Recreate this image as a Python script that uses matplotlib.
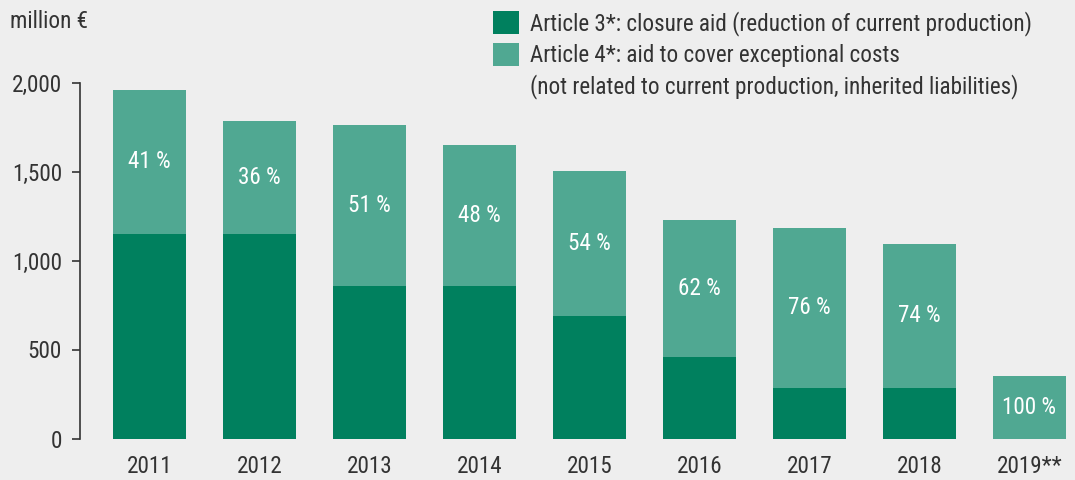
import matplotlib
matplotlib.use("Agg")
import matplotlib.pyplot as plt
from matplotlib.patches import Patch
from matplotlib import font_manager
from matplotlib.textpath import TextPath
from matplotlib.font_manager import FontProperties
import numpy as np

years = ["2011", "2012", "2013", "2014", "2015", "2016", "2017", "2018", "2019**"]
art3 = [1149, 1149, 857, 857, 688, 458, 284, 284, 0]
art4 = [809, 635, 904, 792, 815, 770, 899, 809, 351]
share_labels = ["41 %", "36 %", "51 %", "48 %", "54 %", "62 %", "76 %", "74 %", "100 %"]
yticks = [0, 500, 1000, 1500, 2000]
ytick_labels = ["0", "500", "1,000", "1,500", "2,000"]
legend_labels = ["Article 3*: closure aid (reduction of current production)",
                 "Article 4*: aid to cover exceptional costs",
                 "(not related to current production, inherited liabilities)"]

names = {f.name for f in font_manager.fontManager.ttflist}
fam = "DejaVu Sans"
for cand in ["Roboto Condensed", "Archivo Narrow", "PT Sans Narrow", "Fira Sans Condensed",
             "Liberation Sans Narrow", "Roboto", "Liberation Sans"]:
    if cand in names:
        fam = cand
        break
plt.rcParams["font.family"] = [fam, "DejaVu Sans"]

# fit one text size so the long legend line spans about 500 px (as in the reference)
fp = FontProperties(family=[fam, "DejaVu Sans"], size=10)
w10 = TextPath((0, 0), legend_labels[0], prop=fp).get_extents().width  # in points at size 10
FS = 10 * (500 * 72 / 100) / w10

BG = "#eeeeee"
DARK = "#00805e"
LIGHT = "#50a892"
TXT = "#333333"

fig = plt.figure(figsize=(10.75, 4.8), dpi=100, facecolor=BG)
ax = fig.add_axes([80 / 1075, 41.5 / 480, 995 / 1075, 356 / 480], facecolor=BG)

x = np.arange(len(years))
w = 0.6636
ax.bar(x, art3, width=w, color=DARK, linewidth=0)
ax.bar(x, art4, width=w, bottom=art3, color=LIGHT, linewidth=0)

for xi, b, h, lab in zip(x, art3, art4, share_labels):
    ax.text(xi, b + h / 2, lab, ha="center", va="center", color="white", fontsize=FS)

ax.set_xlim(-0.632, len(years) - 1 + 0.414)
ax.set_ylim(0, 2000)
for s in ["top", "right", "bottom"]:
    ax.spines[s].set_visible(False)
ax.spines["left"].set_color(TXT)
ax.spines["left"].set_linewidth(1.2)
ax.set_yticks(yticks)
ax.set_yticklabels(ytick_labels)
ax.tick_params(axis="y", length=6, width=1.2, color=TXT, labelcolor=TXT, labelsize=FS, pad=7)
ax.set_xticks(x)
ax.set_xticklabels(years)
ax.tick_params(axis="x", length=0, labelcolor=TXT, labelsize=FS, pad=12)

fig.text(10 / 1075, 1 - 22 / 480, "million €", ha="left", va="center", fontsize=FS, color=TXT)

handles = [Patch(facecolor=DARK, edgecolor="none"),
           Patch(facecolor=LIGHT, edgecolor="none"),
           Patch(facecolor="none", edgecolor="none")]
leg = fig.legend(handles, legend_labels, loc="upper left",
                 bbox_to_anchor=(488 / 1075, 1 - 6 / 480), frameon=False,
                 fontsize=FS, handlelength=1.15, handleheight=1.15,
                 handletextpad=0.45, labelspacing=0.3, borderaxespad=0,
                 borderpad=0.2, labelcolor=TXT)

fig.savefig("out.png", dpi=100, facecolor=BG)
